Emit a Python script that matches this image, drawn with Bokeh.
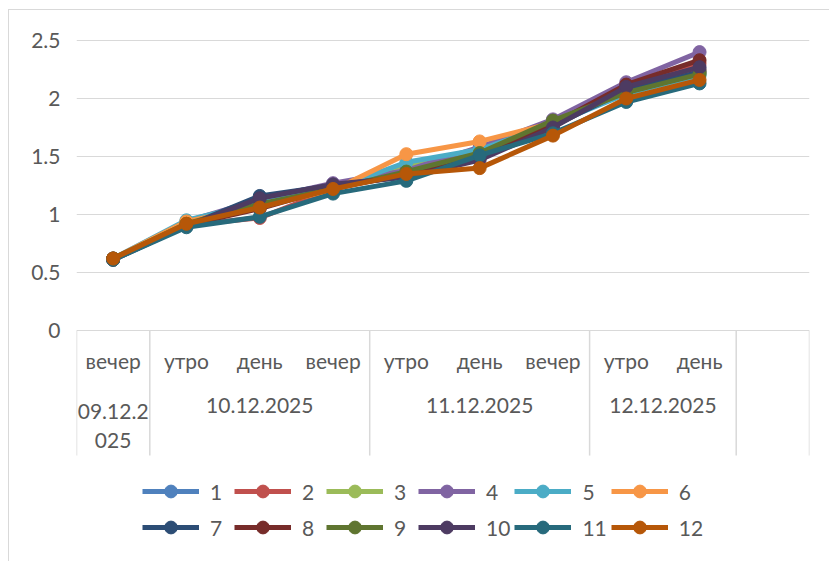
from bokeh.plotting import figure
from bokeh.models import Range1d, FixedTicker, Legend, LegendItem
from bokeh.core.properties import value
from bokeh.embed import file_html
from bokeh.resources import INLINE

# Category axis: time of day inside each date, plus one spare empty slot
periods = ["вечер", "утро", "день", "вечер", "утро", "день", "вечер", "утро", "день"]
dates = ["09.12.2025", "10.12.2025", "11.12.2025", "12.12.2025"]
date_spans = [1, 3, 3, 2]
n_slots = 10

y_ticks = [0, 0.5, 1, 1.5, 2, 2.5]

series_names = ["1", "2", "3", "4", "5", "6", "7", "8", "9", "10", "11", "12"]
s1 = [0.62, 0.93, 1.12, 1.24, 1.40, 1.57, 1.79, 2.08, 2.25]
s2 = [0.62, 0.91, 0.97, 1.22, 1.36, 1.50, 1.77, 2.09, 2.30]
s3 = [0.61, 0.93, 1.08, 1.23, 1.42, 1.54, 1.80, 2.06, 2.22]
s4 = [0.62, 0.94, 1.13, 1.27, 1.38, 1.58, 1.82, 2.14, 2.40]
s5 = [0.62, 0.95, 1.10, 1.22, 1.45, 1.56, 1.78, 2.04, 2.20]
s6 = [0.62, 0.94, 1.07, 1.21, 1.52, 1.63, 1.79, 2.06, 2.24]
s7 = [0.61, 0.90, 1.16, 1.25, 1.33, 1.50, 1.76, 2.07, 2.23]
s8 = [0.62, 0.91, 1.05, 1.23, 1.34, 1.49, 1.78, 2.12, 2.33]
s9 = [0.62, 0.92, 1.09, 1.22, 1.37, 1.53, 1.81, 2.05, 2.21]
s10 = [0.61, 0.90, 1.14, 1.26, 1.32, 1.47, 1.75, 2.10, 2.27]
s11 = [0.61, 0.89, 0.98, 1.18, 1.29, 1.51, 1.70, 1.97, 2.13]
s12 = [0.62, 0.92, 1.06, 1.22, 1.35, 1.40, 1.68, 2.00, 2.16]
series_values = [s1, s2, s3, s4, s5, s6, s7, s8, s9, s10, s11, s12]

colors = ["#4F81BD", "#C0504D", "#9BBB59", "#8064A2", "#4BACC6", "#F79646",
          "#2C4D75", "#772C2A", "#5F7530", "#4D3B62", "#276A7C", "#B65708"]

FONT = "Lato"
TEXT_COLOR = "#595959"
GRID_COLOR = "#d9d9d9"
FONT_SIZE = "21px"

# 116 px per 1.0 on y; the frame also holds the category table and the legend
y_bottom, y_top = -1.9397, 2.6293

p = figure(width=821, height=552, output_backend="svg", toolbar_location=None,
           x_range=Range1d(-0.5, n_slots - 0.5), y_range=Range1d(y_bottom, y_top),
           x_axis_location=None, min_border_left=67, min_border_right=21,
           min_border_top=15, min_border_bottom=7,
           margin=(9, 0, 0, 8),
           styles={"border-top": f"1px solid {GRID_COLOR}",
                   "border-left": f"1px solid {GRID_COLOR}"})
p.outline_line_color = None
p.background_fill_color = "white"
p.border_fill_color = "white"

p.yaxis.ticker = FixedTicker(ticks=y_ticks)
p.yaxis.major_label_overrides = {t: f"{t:g}" for t in y_ticks}
p.yaxis.axis_line_color = None
p.yaxis.major_tick_line_color = None
p.yaxis.minor_tick_line_color = None
p.yaxis.major_label_standoff = 10
p.yaxis.major_label_text_font = FONT
p.yaxis.major_label_text_font_size = FONT_SIZE
p.yaxis.major_label_text_color = TEXT_COLOR
p.ygrid.grid_line_color = GRID_COLOR
p.ygrid.grid_line_width = 1
p.xgrid.visible = False

# category table under the plot: separators between the dates
bounds = [-0.5]
for span in date_spans:
    bounds.append(bounds[-1] + span)
bounds.append(n_slots - 0.5)
table_bottom = -1.078
p.segment(x0=bounds, y0=[0] * len(bounds), x1=bounds, y1=[table_bottom] * len(bounds),
          line_color=GRID_COLOR, line_width=1.5)

xs = list(range(len(periods)))
p.text(x=xs, y=[-0.2586] * len(xs), text=periods, text_font=value(FONT),
       text_font_size=FONT_SIZE, text_color=TEXT_COLOR, text_align="center",
       text_baseline="middle")


def wrap(label, span):
    # a single-slot cell is too narrow for a full date
    return label[:7] + "\n" + label[7:] if span == 1 else label


centers, start = [], 0
for span in date_spans:
    centers.append(start + (span - 1) / 2)
    start += span
p.text(x=centers, y=[-0.58] * len(centers),
       text=[wrap(d, s) for d, s in zip(dates, date_spans)],
       text_font=value(FONT), text_font_size=FONT_SIZE, text_color=TEXT_COLOR,
       text_align="center", text_baseline="top", text_line_height=1.15)

items = []
for name, vals, c in zip(series_names, series_values, colors):
    lr = p.line(xs, vals, line_color=c, line_width=5, line_join="round")
    sr = p.scatter(xs, vals, marker="circle", size=13, fill_color=c, line_color=c)
    items.append(LegendItem(label=name, renderers=[lr, sr]))

legend = Legend(items=items, orientation="horizontal", ncols=6, location=(66, 12),
                border_line_color=None, background_fill_alpha=0,
                glyph_width=57, glyph_height=32, label_height=32,
                label_standoff=11, spacing=4, padding=0, margin=0,
                label_text_font=FONT, label_text_font_size=FONT_SIZE,
                label_text_color=TEXT_COLOR)
p.add_layout(legend, "center")

open("out.html", "w").write(file_html(p, INLINE))
